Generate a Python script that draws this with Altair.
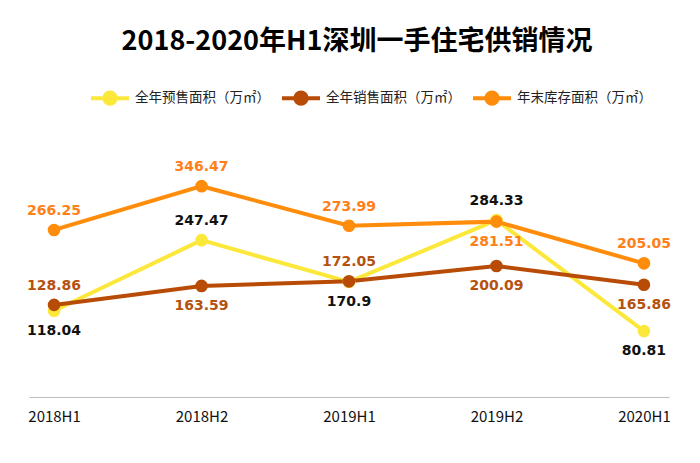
import altair as alt
import pandas as pd

categories = ["2018H1", "2018H2", "2019H1", "2019H2", "2020H1"]
series_names = ["全年预售面积（万㎡）", "全年销售面积（万㎡）", "年末库存面积（万㎡）"]
presale = [118.04, 247.47, 170.9, 284.33, 80.81]
sales = [128.86, 163.59, 172.05, 200.09, 165.86]
stock = [266.25, 346.47, 273.99, 281.51, 205.05]
# label placement per point: 1 = above, -1 = below
presale_side = [-1, 1, -1, 1, -1]
sales_side = [1, -1, 1, -1, -1]
stock_side = [1, 1, 1, -1, 1]

line_colors = ["#FCE83A", "#B84C06", "#FF8C0A"]
label_colors = ["#111111", "#B5520F", "#FF8019"]

rows = []
for s, vals, sides, lc in zip(series_names, [presale, sales, stock],
                              [presale_side, sales_side, stock_side], label_colors):
    for c, v, sd in zip(categories, vals, sides):
        rows.append({"cat": c, "series": s, "value": v, "side": sd,
                     "label": f"{v:g}", "lcolor": lc})
df = pd.DataFrame(rows)

font = "Noto Sans CJK SC"
num_font = "DejaVu Sans"
r = 0.3
sym = f"M-1,0L1,0M{r},0A{r},{r},0,1,1,-{r},0A{r},{r},0,1,1,{r},0Z"

x = alt.X("cat:N", sort=categories, title=None,
          scale=alt.Scale(type="point", padding=0.17),
          axis=alt.Axis(labelAngle=0, ticks=False, grid=False, domainColor="#BDBDBD",
                        domainWidth=1, labelFont=font, labelFontSize=15, labelColor="#111",
                        labelPadding=12))
y = alt.Y("value:Q", scale=alt.Scale(domain=[-40, 400]), axis=None)
color = alt.Color("series:N", sort=series_names,
                  scale=alt.Scale(domain=series_names, range=line_colors),
                  legend=alt.Legend(title=None, orient="none", direction="horizontal",
                                    legendX=60, legendY=-80,
                                    symbolType=sym, symbolSize=1444, symbolStrokeWidth=4,
                                    labelFont=font, labelFontSize=13.5, labelColor="#222",
                                    labelOffset=4, columnPadding=4, labelLimit=300))

base = alt.Chart(df)
lines = base.mark_line(strokeWidth=4).encode(x=x, y=y, color=color)
points = base.mark_point(filled=True, size=160, opacity=1).encode(x=x, y=y, color=color)

lab_color = alt.Color("lcolor:N", scale=None)
above = base.transform_filter("datum.side == 1").mark_text(
    dy=-19, baseline="middle", font=num_font, fontSize=14, fontWeight="bold"
).encode(x=x, y=y, text="label:N", color=lab_color)
below = base.transform_filter("datum.side == -1").mark_text(
    dy=20, baseline="middle", font=num_font, fontSize=14, fontWeight="bold"
).encode(x=x, y=y, text="label:N", color=lab_color)

chart = alt.layer(lines, points, above, below).properties(
    width=640, height=240,
    autosize=alt.AutoSizeParams(type="none"),
    padding={"left": 21, "top": 149, "right": 23, "bottom": 58},
    title=alt.TitleParams("2018-2020年H1深圳一手住宅供销情况", font=font, fontSize=27,
                          fontWeight="bold", color="#000", anchor="middle", offset=21, dx=8),
).configure_view(stroke=None)

chart.save("out.html", embed_options={"renderer": "svg", "actions": False})
